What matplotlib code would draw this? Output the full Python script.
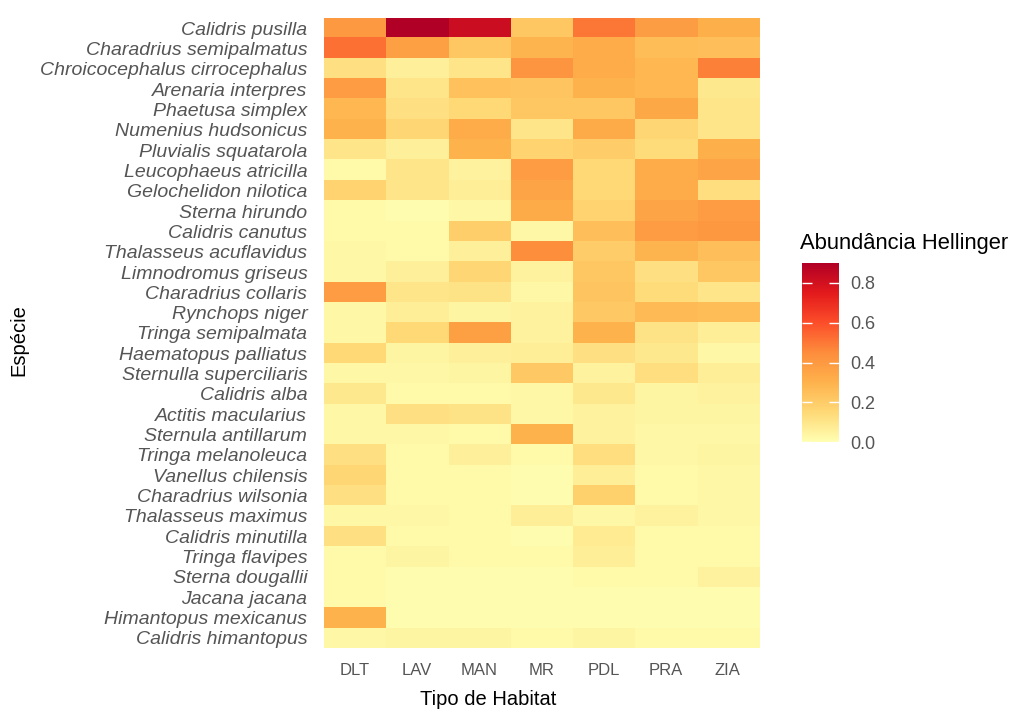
import numpy as np
import matplotlib
matplotlib.use("Agg")
import matplotlib.pyplot as plt
from matplotlib.colors import LinearSegmentedColormap

plt.rcParams['font.family'] = ['Liberation Sans', 'DejaVu Sans']

# Habitats (columns) and species (rows, top to bottom)
habitats = ["DLT", "LAV", "MAN", "MR", "PDL", "PRA", "ZIA"]
species = [
    "Calidris pusilla", "Charadrius semipalmatus", "Chroicocephalus cirrocephalus",
    "Arenaria interpres", "Phaetusa simplex", "Numenius hudsonicus",
    "Pluvialis squatarola", "Leucophaeus atricilla", "Gelochelidon nilotica",
    "Sterna hirundo", "Calidris canutus", "Thalasseus acuflavidus",
    "Limnodromus griseus", "Charadrius collaris", "Rynchops niger",
    "Tringa semipalmata", "Haematopus palliatus", "Sternulla superciliaris",
    "Calidris alba", "Actitis macularius", "Sternula antillarum",
    "Tringa melanoleuca", "Vanellus chilensis", "Charadrius wilsonia",
    "Thalasseus maximus", "Calidris minutilla", "Tringa flavipes",
    "Sterna dougallii", "Jacana jacana", "Himantopus mexicanus",
    "Calidris himantopus",
]

# Hellinger-transformed abundance, one list per habitat, same order as species
dlt = [0.40, 0.52, 0.12, 0.39, 0.28, 0.30, 0.10, 0.02, 0.17, 0.02, 0.02, 0.03, 0.03, 0.39, 0.03, 0.03,
       0.15, 0.03, 0.09, 0.03, 0.03, 0.12, 0.16, 0.12, 0.03, 0.12, 0.02, 0.02, 0.02, 0.30, 0.03]
lav = [0.90, 0.37, 0.06, 0.10, 0.12, 0.16, 0.06, 0.10, 0.10, 0.01, 0.02, 0.02, 0.06, 0.10, 0.07, 0.15,
       0.04, 0.03, 0.02, 0.12, 0.03, 0.02, 0.02, 0.02, 0.03, 0.02, 0.04, 0.01, 0.01, 0.01, 0.04]
man = [0.82, 0.22, 0.10, 0.24, 0.15, 0.32, 0.30, 0.05, 0.07, 0.03, 0.19, 0.06, 0.16, 0.11, 0.04, 0.37,
       0.06, 0.04, 0.02, 0.11, 0.02, 0.06, 0.02, 0.02, 0.02, 0.02, 0.02, 0.01, 0.01, 0.01, 0.04]
mr = [0.22, 0.29, 0.42, 0.23, 0.22, 0.10, 0.17, 0.39, 0.35, 0.33, 0.03, 0.44, 0.05, 0.03, 0.05, 0.05,
      0.07, 0.21, 0.03, 0.03, 0.30, 0.02, 0.01, 0.01, 0.07, 0.01, 0.02, 0.01, 0.01, 0.01, 0.02]
pdl = [0.50, 0.32, 0.32, 0.30, 0.22, 0.33, 0.20, 0.15, 0.15, 0.17, 0.25, 0.20, 0.22, 0.23, 0.21, 0.30,
       0.12, 0.05, 0.09, 0.05, 0.05, 0.13, 0.07, 0.18, 0.03, 0.08, 0.07, 0.02, 0.01, 0.01, 0.04]
pra = [0.38, 0.26, 0.28, 0.28, 0.34, 0.16, 0.14, 0.32, 0.32, 0.35, 0.39, 0.29, 0.12, 0.14, 0.27, 0.11,
       0.09, 0.13, 0.04, 0.04, 0.03, 0.03, 0.02, 0.02, 0.05, 0.02, 0.02, 0.02, 0.01, 0.01, 0.02]
zia = [0.31, 0.25, 0.48, 0.09, 0.10, 0.10, 0.31, 0.35, 0.13, 0.39, 0.41, 0.25, 0.22, 0.10, 0.26, 0.07,
       0.03, 0.07, 0.05, 0.04, 0.03, 0.04, 0.03, 0.03, 0.03, 0.02, 0.02, 0.05, 0.01, 0.01, 0.02]

values = np.column_stack([dlt, lav, man, mr, pdl, pra, zia])

# YlOrRd (7-class brewer) gradient
ylorrd = LinearSegmentedColormap.from_list(
    "ylorrd7", ["#FFFFB2", "#FED976", "#FEB24C", "#FD8D3C", "#FC4E2A", "#E31A1C", "#B10026"])
vmax = values.max()

fig = plt.figure(figsize=(10.14, 7.11), dpi=100)
ax = fig.add_axes([0.3195, 0.0886, 0.4290, 0.8861])
im = ax.imshow(values, cmap=ylorrd, vmin=0, vmax=vmax, aspect="auto",
               interpolation="nearest")

ax.set_xticks(np.arange(len(habitats)))
ax.set_xticklabels(habitats, fontsize=12, color="#555555")
ax.set_yticks(np.arange(len(species)))
ax.set_yticklabels(species, fontsize=14, color="#555555", style="italic")
ax.tick_params(axis="y", length=0, pad=12)
ax.tick_params(axis="x", length=0, pad=11)
for s in ax.spines.values():
    s.set_visible(False)

fig.text(0.481, 0.0155, "Tipo de Habitat", fontsize=14.5, ha="center", va="center")
fig.text(0.019, 0.522, "Espécie", fontsize=14.5, rotation=90, ha="center", va="center")

# colour bar legend
cax = fig.add_axes([0.791, 0.378, 0.0365, 0.252])
cb = fig.colorbar(im, cax=cax, ticks=[0.0, 0.2, 0.4, 0.6, 0.8])
cb.outline.set_visible(False)
cb.ax.set_yticklabels(["0.0", "0.2", "0.4", "0.6", "0.8"])
cb.ax.tick_params(left=True, right=True, direction="in", length=7, width=1,
                  color="white", labelsize=13, labelcolor="#555555", pad=8)
fig.text(0.789, 0.658, "Abundância Hellinger", fontsize=15.8, ha="left", va="center")

fig.savefig("out.png", dpi=100, facecolor="white")
